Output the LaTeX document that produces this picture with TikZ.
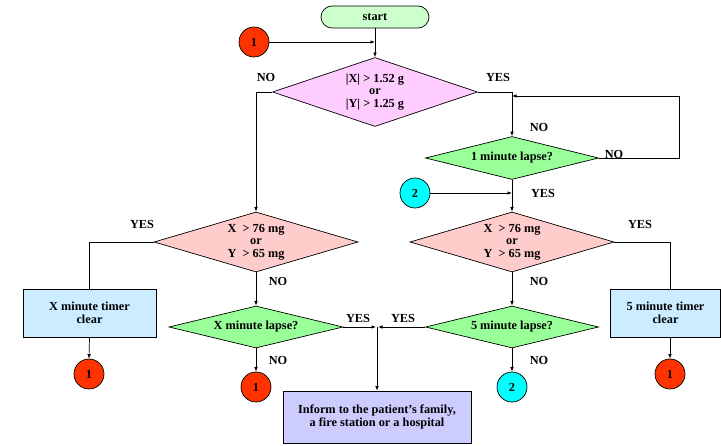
\documentclass[tikz,border=0pt]{standalone}
\usepackage{fontspec}
\setmainfont{Liberation Serif}
\usetikzlibrary{shapes.geometric,arrows.meta,calc}
\definecolor{startg}{HTML}{CCFFCC}
\definecolor{pinkd}{HTML}{FFCCFF}
\definecolor{redd}{HTML}{FFCCCC}
\definecolor{greend}{HTML}{99FF99}
\definecolor{boxb}{HTML}{CCECFF}
\definecolor{boxp}{HTML}{CCCCFF}
\definecolor{cred}{HTML}{FF3300}
\definecolor{ccyan}{HTML}{00FFFF}
\begin{document}
\begin{tikzpicture}[x=1pt,y=-1pt,
  font=\fontsize{12.3}{12.5}\selectfont\bfseries,
  line width=0.7pt,
  arr/.style={-{Latex[length=4.5pt,width=3.5pt]}},
  dia/.style={diamond,draw,inner sep=0pt,align=center},
  procbox/.style={rectangle,draw,align=center,inner sep=0pt},
  conn/.style={circle,draw,minimum size=30pt,inner sep=0pt},
  lbl/.style={inner sep=0pt}]
\useasboundingbox (0,0) rectangle (721,446);
% nodes
\node[procbox,fill=startg,rounded corners=11pt,minimum width=108pt,minimum height=22pt] (start) at (375,17) {start};
\node[conn,fill=cred] (c1a) at (254,42) {1};
\node[dia,fill=pinkd,shape aspect=3,minimum width=205pt,minimum height=69pt] (pink) at (375,92) {|X| > 1.52 g\\or\\|Y| > 1.25 g};
\node[dia,fill=greend,shape aspect=4,minimum width=173pt,minimum height=43pt] (g1) at (512,158) {1 minute lapse?};
\node[conn,fill=ccyan] (c2a) at (415,193) {2};
\node[dia,fill=redd,shape aspect=3.4,minimum width=204pt,minimum height=60pt] (redL) at (256,242) {X~~> 76 mg\\or\\Y~~> 65 mg};
\node[dia,fill=redd,shape aspect=3.4,minimum width=204pt,minimum height=60pt] (redR) at (512,242) {X~~> 76 mg\\or\\Y~~> 65 mg};
\node[procbox,fill=boxb,minimum width=133pt,minimum height=48pt] (boxL) at (89.5,313) {X minute timer\\clear};
\node[procbox,fill=boxb,minimum width=110pt,minimum height=48pt] (boxR) at (665.5,313) {5 minute timer\\clear};
\node[dia,fill=greend,shape aspect=4,minimum width=174pt,minimum height=42pt] (gX) at (256,327) {X minute lapse?};
\node[dia,fill=greend,shape aspect=4,minimum width=173pt,minimum height=42pt] (g5) at (512,327) {5 minute lapse?};
\node[conn,fill=cred] (cL) at (89,374) {1};
\node[conn,fill=cred] (cX) at (256,387) {1};
\node[conn,fill=ccyan] (c2b) at (512,387) {2};
\node[conn,fill=cred] (cR) at (670,374) {1};
\node[procbox,fill=boxp,minimum width=188pt,minimum height=52pt] (inform) at (377,417) {Inform to the patient’s family,\\a fire station or a hospital};
\coordinate (loopT) at (679,96);
\coordinate (junc) at (377,327);
% labels
\node[lbl] (lNO1) at (266,77) {NO};
\node[lbl] (lYES1) at (498,77) {YES};
\node[lbl] (lNO2) at (539,127) {NO};
\node[lbl] (lNO3) at (614,154) {NO};
\node[lbl] (lYES2) at (543,193) {YES};
\node[lbl] (lYES3) at (142,224) {YES};
\node[lbl] (lYES4) at (640,224) {YES};
\node[lbl] (lNO4) at (278,281) {NO};
\node[lbl] (lNO5) at (539,281) {NO};
\node[lbl] (lYES5) at (358,318) {YES};
\node[lbl] (lYES6) at (403,318) {YES};
\node[lbl] (lNO6) at (278,360) {NO};
\node[lbl] (lNO7) at (539,360) {NO};
% connectors
\draw[arr] (start.south) -- (pink.north);
\draw[arr] (c1a.east) -- (c1a.east -| start.south);
\draw[arr] (pink.west) -| (redL.north);
\draw[arr] (pink.east) -| (g1.north);
\draw[arr] (g1.east) -| (loopT) -- (loopT -| g1.north);
\draw[arr] (c2a.east) -- (c2a.east -| g1.south);
\draw[arr] (g1.south) -- (redR.north);
\draw (redL.west) -| (boxL.north);
\draw (redR.east) -| (boxR.north -| cR);
\draw[arr] (boxL.south) -- (cL.north);
\draw[arr] (boxR.south -| cR) -- (cR.north);
\draw[arr] (redL.south) -- (gX.north);
\draw[arr] (gX.south) -- (cX.north);
\draw[arr] (redR.south) -- (g5.north);
\draw[arr] (g5.south) -- (c2b.north);
\draw[arr] (gX.east) -- ($(junc)+(-1,0)$);
\draw[arr] (g5.west) -- ($(junc)+(1,0)$);
\draw[arr] (junc) -- (inform.north);
\end{tikzpicture}
\end{document}
